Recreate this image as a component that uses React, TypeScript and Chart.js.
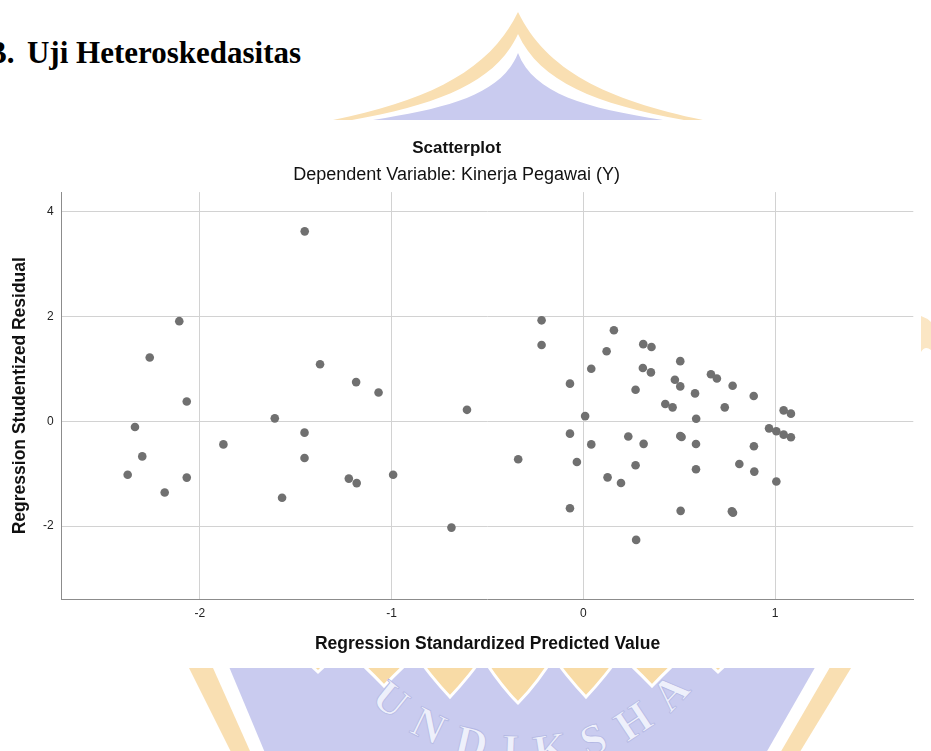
import React, { useEffect, useRef } from 'react';
import { Chart, registerables } from 'chart.js';

Chart.register(...registerables);

// ---- data ----
const predictedValues = [
  -1.453, -2.107, -2.261, -2.068, -1.373, -1.185, -1.068, -1.609, -0.607, -2.338,
  -2.3, -2.376, -2.183, -2.068, -1.877, -1.454, -1.454, -1.571, -1.223, -1.182,
  -0.992, -0.688, -0.34, -0.218, -0.218, 0.159, 0.121, 0.312, 0.355, 0.505,
  0.041, 0.31, 0.352, -0.07, 0.272, 0.477, 0.505, 0.665, 0.696, 0.582,
  0.778, 0.888, 0.427, 0.465, 0.737, 0.588, 0.009, 1.044, 1.082, 0.968,
  1.006, 1.044, 1.082, -0.07, 0.041, 0.234, 0.314, 0.505, 0.512, 0.587,
  0.889, -0.034, 0.272, 0.587, 0.813, 0.891, 0.126, 0.196, 1.006, -0.07,
  0.507, 0.774, 0.78, 0.275,
];
const studentizedResiduals = [
  3.63, 1.914, 1.22, 0.38, 1.09, 0.75, 0.55, 0.057, 0.22, -0.108,
  -0.67, -1.02, -1.36, -1.075, -0.44, -0.216, -0.7, -1.46, -1.094, -1.18,
  -1.02, -2.03, -0.725, 1.93, 1.46, 1.74, 1.34, 1.475, 1.42, 1.15,
  1.005, 1.02, 0.935, 0.72, 0.605, 0.795, 0.668, 0.9, 0.82, 0.534,
  0.68, 0.483, 0.33, 0.267, 0.267, 0.05, 0.1, 0.21, 0.147, -0.134,
  -0.19, -0.254, -0.305, -0.235, -0.44, -0.29, -0.43, -0.28, -0.3, -0.433,
  -0.477, -0.776, -0.84, -0.916, -0.815, -0.96, -1.07, -1.177, -1.15, -1.66,
  -1.71, -1.72, -1.745, -2.265,
];
const xTicks = [-2, -1, 0, 1];
const yTicks = [-2, 0, 2, 4];
const xRange = [-2.72, 1.72];
const yRange = [-3.4, 4.38];

const headingNumber = 'B.';
const headingText = 'Uji Heteroskedasitas';
const chartTitle = 'Scatterplot';
const chartSubtitle = 'Dependent Variable: Kinerja Pegawai (Y)';
const xTitle = 'Regression Standardized Predicted Value';
const yTitle = 'Regression Studentized Residual';
const watermarkText = 'UNDIKSHA';

const FONT = "'Liberation Sans', Arial, Helvetica, sans-serif";

function petal(cx: number, tipY: number, w: number) {
  return `M ${cx - w} 650 Q ${cx - w * 0.5} ${tipY - 20} ${cx} ${tipY} Q ${cx + w * 0.5} ${tipY - 20} ${cx + w} 650 Z`;
}

export default function App() {
  const ref = useRef<HTMLCanvasElement>(null);

  useEffect(() => {
    if (!ref.current) return;
    const points = predictedValues.map((x, i) => ({ x, y: studentizedResiduals[i] }));
    const chart = new Chart(ref.current, {
      type: 'scatter',
      data: {
        datasets: [
          {
            data: points,
            backgroundColor: '#707070',
            borderWidth: 0,
            pointRadius: 4.3,
            pointHoverRadius: 4.3,
          },
        ],
      },
      options: {
        animation: false,
        responsive: false,
        devicePixelRatio: 1,
        events: [],
        layout: { padding: { left: 0, right: 17.7, top: 0, bottom: 0 } },
        plugins: {
          legend: { display: false },
          tooltip: { enabled: false },
          title: {
            display: true,
            text: chartTitle,
            color: '#111111',
            font: { family: FONT, size: 17, weight: 'bold', lineHeight: 1.2 },
            padding: { top: 137.8, bottom: 3.2 },
          },
          subtitle: {
            display: true,
            text: chartSubtitle,
            color: '#111111',
            font: { family: FONT, size: 18, weight: 'normal', lineHeight: 1.2 },
            padding: { top: 3.2, bottom: 5.9 },
          },
        },
        scales: {
          x: {
            type: 'linear',
            min: xRange[0],
            max: xRange[1],
            afterBuildTicks: (s: any) => {
              s.ticks = xTicks.map((v) => ({ value: v }));
            },
            afterFit: (s: any) => {
              s.height = 151.7;
            },
            grid: { color: '#d2d2d2', lineWidth: 1, drawTicks: false },
            border: { display: true, color: '#8c8c8c', width: 1 },
            ticks: {
              padding: 7,
              color: '#222222',
              font: { family: FONT, size: 12 },
              callback: (v: any) => String(v),
            },
            title: {
              display: true,
              text: xTitle,
              color: '#111111',
              font: { family: FONT, size: 17.5, weight: 'bold', lineHeight: 1.2 },
              padding: { top: 4, bottom: 96.5 },
            },
          },
          y: {
            type: 'linear',
            min: yRange[0],
            max: yRange[1],
            afterBuildTicks: (s: any) => {
              s.ticks = yTicks.map((v) => ({ value: v }));
            },
            afterFit: (s: any) => {
              s.width = 61.7;
            },
            grid: { color: '#d2d2d2', lineWidth: 1, drawTicks: false },
            border: { display: true, color: '#8c8c8c', width: 1 },
            ticks: {
              padding: 8,
              color: '#222222',
              font: { family: FONT, size: 12 },
              callback: (v: any) => String(v),
            },
            title: {
              display: true,
              text: yTitle,
              color: '#111111',
              font: { family: FONT, size: 17.5, weight: 'bold', lineHeight: 1.2 },
              padding: { top: 9.5, bottom: 4 },
            },
          },
        },
      } as any,
    });
    return () => chart.destroy();
  }, []);

  const cx = 527;
  const cy = 545;
  const r = 220;
  const a0 = (165 * Math.PI) / 180;
  const a1 = (15 * Math.PI) / 180;
  const arcPath = `M ${cx + r * Math.cos(a0)} ${cy + r * Math.sin(a0)} A ${r} ${r} 0 0 0 ${cx + r * Math.cos(a1)} ${cy + r * Math.sin(a1)}`;

  return (
    <div
      style={{
        position: 'absolute',
        left: 0,
        top: 0,
        width: 931,
        height: 751,
        overflow: 'hidden',
        background: '#ffffff',
      }}
    >
      <svg width={931} height={751} style={{ position: 'absolute', left: 0, top: 0 }}>
        <defs>
          <path id="wmArc" d={arcPath} />
        </defs>
        {/* top dome of the watermark */}
        <path d="M 333 120 C 430 100 490 70 518 12 C 546 70 606 100 703 120 L 703 130 L 333 130 Z" fill="#f9dfb2" />
        <path d="M 352 120 C 440 104 496 82 518 34 C 540 82 596 104 684 120 L 684 130 L 352 130 Z" fill="#ffffff" />
        <path d="M 373 120 C 450 108 502 94 518 53 C 534 94 586 108 663 120 L 663 130 L 373 130 Z" fill="#c9cbef" />
        {/* bottom shield of the watermark */}
        <polygon points="180,650 862,650 795,760 235,760" fill="#f9dfb2" />
        <polygon points="205,650 840,650 776,760 254,760" fill="#ffffff" />
        <polygon points="222,650 825,650 762,760 268,760" fill="#c9cbef" />
        <g fill="#f8dba6" stroke="#ffffff" strokeWidth={3}>
          <path d={petal(318, 672, 40)} />
          <path d={petal(718, 672, 40)} />
          <path d={petal(384, 686, 38)} />
          <path d={petal(652, 686, 38)} />
          <path d={petal(450, 697, 38)} />
          <path d={petal(586, 697, 38)} />
          <path d={petal(518, 703, 40)} />
        </g>
        <text
          fontFamily="'Liberation Serif', 'Times New Roman', serif"
          fontWeight="bold"
          fontSize={44}
          letterSpacing={17.6}
          fill="#eef0fb"
          stroke="#b4b8e4"
          strokeWidth={0.8}
        >
          <textPath href="#wmArc" startOffset="52.6%" textAnchor="middle">
            {watermarkText}
          </textPath>
        </text>
        <path d="M 921 316 Q 927 318 931 322 L 931 350 Q 925 345 921 352 Z" fill="#fbe6c4" />
        {/* white background of the chart picture */}
        <rect x={0} y={120} width={921} height={548} fill="#ffffff" />
      </svg>
      <div
        style={{
          position: 'absolute',
          left: -14,
          top: 37,
          fontFamily: "'Liberation Serif', 'Times New Roman', serif",
          fontWeight: 'bold',
          fontSize: 31,
          lineHeight: '31px',
          color: '#000000',
          whiteSpace: 'nowrap',
        }}
      >
        {headingNumber} <span style={{ marginLeft: 4.8 }}>{headingText}</span>
      </div>
      <canvas
        ref={ref}
        width={931}
        height={751}
        style={{ position: 'absolute', left: 0, top: 0, width: 931, height: 751 }}
      />
    </div>
  );
}
